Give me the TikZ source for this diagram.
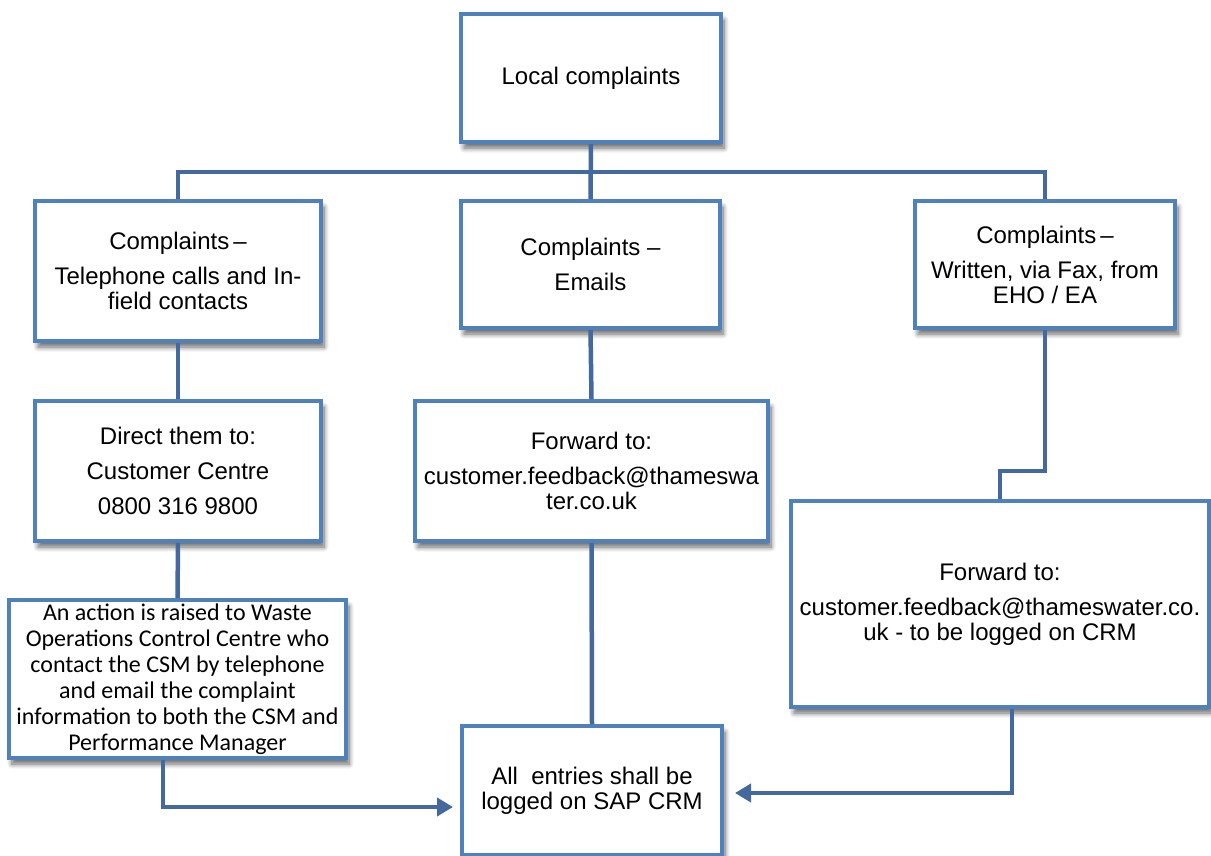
\documentclass[tikz,border=0pt]{standalone}
\usepackage{fontspec}
\setmainfont{Liberation Sans}
\newfontfamily\calibrifont{Carlito}
\usetikzlibrary{arrows.meta,shadows.blur}

\definecolor{boxblue}{HTML}{4F81BD}
\definecolor{linkblue}{HTML}{43699E}

\tikzset{
  flowbox/.style={draw=boxblue, line width=4pt, fill=white, align=center,
    inner sep=0pt, font=\fontsize{24}{25}\selectfont,
    blur shadow={shadow xshift=3pt, shadow yshift=-6pt, shadow blur radius=5pt,
      shadow blur steps=8, shadow opacity=60}},
  conn/.style={draw=linkblue, line width=4.5pt},
  arr/.style={conn, -{Triangle[length=16pt,width=18pt]}},
}

\begin{document}
\begin{tikzpicture}[x=1pt, y=-1pt]
\useasboundingbox (0,0) rectangle (1211,855);

% boxes
\node[flowbox, minimum width=260pt, minimum height=128pt] (local) at (591,78) {Local complaints};

\node[flowbox, minimum width=286pt, minimum height=140pt] (tel) at (178,271)
  {Complaints\,–\\[10pt] Telephone calls and In-\\ field contacts};
\node[flowbox, minimum width=259pt, minimum height=127pt] (emails) at (590.5,264.5)
  {Complaints –\\[10pt] Emails};
\node[flowbox, minimum width=260pt, minimum height=127pt] (written) at (1045,264.5)
  {Complaints\,–\\[10pt] Written, via Fax, from\\ EHO / EA};

\node[flowbox, minimum width=286pt, minimum height=140pt] (direct) at (178,471)
  {Direct them to:\\[10pt] Customer Centre\\[10pt] 0800 316 9800};
\node[flowbox, minimum width=353pt, minimum height=140pt] (fwdM) at (591.5,471)
  {Forward to:\\[10pt] customer.feedback@thameswa\\ ter.co.uk};
\node[flowbox, minimum width=418pt, minimum height=206pt] (fwdR) at (1000,604)
  {Forward to:\\[10pt] customer.feedback@thameswater.co.\\ uk - to be logged on CRM};

\node[flowbox, minimum width=337pt, minimum height=158pt,
      font=\calibrifont\fontsize{24}{26}\selectfont] (action) at (177.5,679)
  {An action is raised to Waste\\ Operations Control Centre who\\ contact the CSM by telephone\\
   and email the complaint\\ information to both the CSM and\\ Performance Manager};

\node[flowbox, minimum width=260pt, minimum height=129pt] (all) at (592,790.5)
  {All\ \ entries shall be\\ logged on SAP CRM};

% connectors
\coordinate (bar) at (591,172);
\coordinate (wmid) at (1000,471);
\coordinate (lturn) at (163,807);
\coordinate (rturn) at (1012,793);

\draw[conn] (local.south) -- (emails.north);
\draw[conn] (tel.north) |- (bar) -| (written.north);
\draw[conn] (tel.south) -- (direct.north);
\draw[conn] (direct.south) -- (action.north);
\draw[conn] (emails.south) -- (fwdM.north);
\draw[conn] (fwdM.south) -- (all.north);
\draw[conn] (written.south) |- (wmid) -- (fwdR.north);
\draw[arr, shorten >=7pt] (lturn |- action.south) -- (lturn) -- (all.west |- lturn);
\draw[arr, shorten >=11pt] (rturn |- fwdR.south) -- (rturn) -- (all.east |- rturn);
\end{tikzpicture}
\end{document}
